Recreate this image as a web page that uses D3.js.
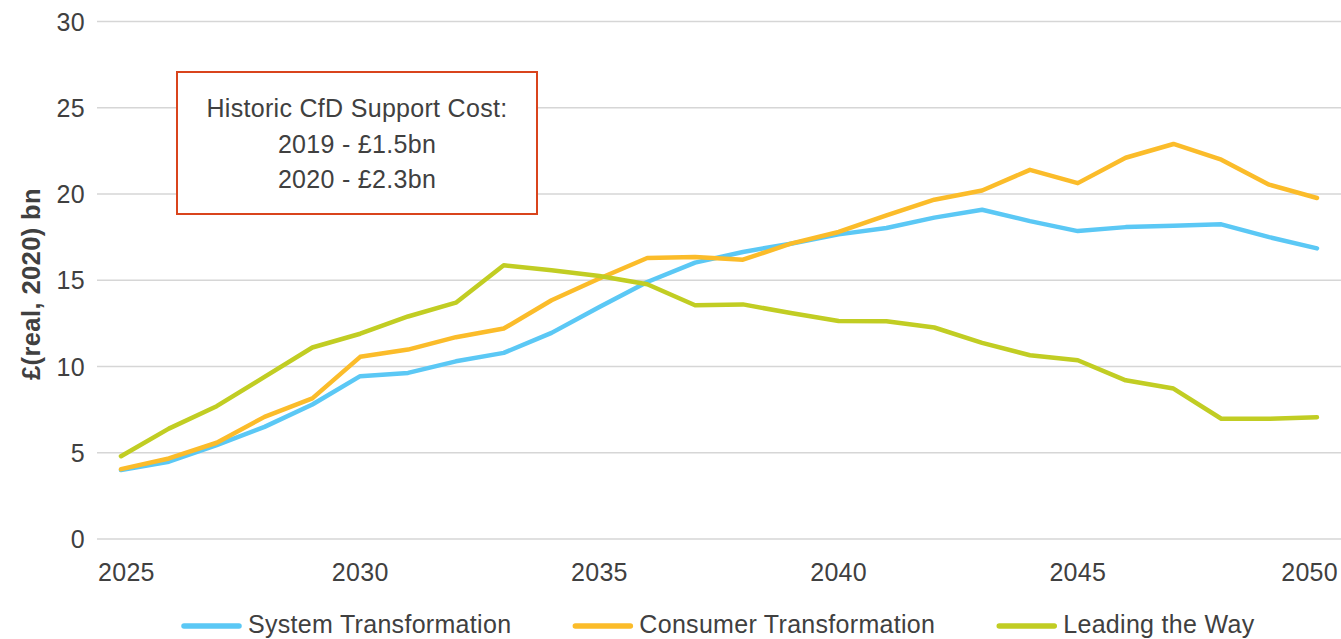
<!DOCTYPE html>
<html>
<head>
<meta charset="utf-8">
<script src="https://cdn.jsdelivr.net/npm/d3@7/dist/d3.min.js"></script>
<style>
  html, body { margin: 0; padding: 0; background: #fff; }
  svg { display: block; font-family: "Liberation Sans", Arial, Helvetica, sans-serif; }
</style>
</head>
<body>
<svg id="chart" width="1341" height="639"></svg>
<script>
// ---- data ----
const years = d3.range(2025, 2051);
const xTickLabels = [2025, 2030, 2035, 2040, 2045, 2050];
const yTickLabels = [0, 5, 10, 15, 20, 25, 30];
const seriesNames = ["System Transformation", "Consumer Transformation", "Leading the Way"];
const systemTransformation = [4.0, 4.48, 5.44, 6.5, 7.8, 9.44, 9.63, 10.3, 10.79, 11.95, 13.45, 14.9, 16.02, 16.64, 17.12, 17.66, 18.03, 18.63, 19.09, 18.43, 17.85, 18.08, 18.16, 18.24, 17.5, 16.85];
const consumerTransformation = [4.05, 4.67, 5.58, 7.08, 8.15, 10.56, 10.98, 11.7, 12.2, 13.84, 15.1, 16.29, 16.35, 16.19, 17.12, 17.8, 18.76, 19.67, 20.2, 21.4, 20.63, 22.1, 22.9, 21.99, 20.54, 19.77];
const leadingTheWay = [4.8, 6.4, 7.7, 9.4, 11.1, 11.9, 12.9, 13.7, 15.87, 15.58, 15.25, 14.77, 13.55, 13.6, 13.1, 12.64, 12.62, 12.26, 11.37, 10.65, 10.36, 9.2, 8.72, 6.97, 6.97, 7.06];
const annotationLines = ["Historic CfD Support Cost:", "2019 - £1.5bn", "2020 - £2.3bn"];
const yTitle = "£(real, 2020) bn";

// ---- layout / style ----
const W = 1341, H = 639;
const colors = ["#5bc8f5", "#fbbc2a", "#c1cd23"];
const textColor = "#404040";
const gridColor = "#d6d6d6";
const fontSize = 25;
const letterSp = "0.3px";

const svg = d3.select("#chart");
const x = d3.scaleLinear().domain([2025, 2050]).range([121, 1317]);
const y = d3.scaleLinear().domain([0, 30]).range([539, 21.5]);

// gridlines
svg.append("g").selectAll("line").data(yTickLabels).join("line")
  .attr("x1", 97).attr("x2", W)
  .attr("y1", d => y(d)).attr("y2", d => y(d))
  .attr("stroke", gridColor).attr("stroke-width", 1.5);

// y tick labels
svg.append("g").selectAll("text").data(yTickLabels).join("text")
  .attr("x", 85).attr("y", d => y(d)).attr("dy", "0.36em")
  .attr("text-anchor", "end")
  .attr("font-size", fontSize).attr("letter-spacing", letterSp).attr("fill", textColor)
  .text(d => d);

// x tick labels (kept inside the canvas)
const xl = svg.append("g").selectAll("text").data(xTickLabels).join("text")
  .attr("y", 581)
  .attr("text-anchor", "middle")
  .attr("font-size", fontSize).attr("letter-spacing", letterSp).attr("fill", textColor)
  .text(d => d);
xl.each(function(d) {
  const w = this.getComputedTextLength();
  const cx = Math.max(w / 2 + 98, Math.min(W - 3 - w / 2, x(d)));
  d3.select(this).attr("x", cx);
});

// y title
svg.append("text")
  .attr("transform", `translate(40,${284}) rotate(-90)`)
  .attr("text-anchor", "middle")
  .attr("font-size", 25.5).attr("letter-spacing", "0.4px").attr("font-weight", "bold").attr("fill", textColor)
  .text(yTitle);

// annotation box
const box = { x: 177, y: 72, w: 360, h: 142 };
svg.append("rect")
  .attr("x", box.x).attr("y", box.y).attr("width", box.w).attr("height", box.h)
  .attr("fill", "#fff").attr("stroke", "#d9441c").attr("stroke-width", 2);
svg.append("g").selectAll("text").data(annotationLines).join("text")
  .attr("x", box.x + box.w / 2).attr("y", (d, i) => 117 + i * 35.5)
  .attr("text-anchor", "middle")
  .attr("font-size", fontSize).attr("letter-spacing", letterSp).attr("fill", textColor)
  .text(d => d);

// lines
const allSeries = [systemTransformation, consumerTransformation, leadingTheWay];
const line = d3.line().x((d, i) => x(years[i])).y(d => y(d));
svg.append("g").selectAll("path").data(allSeries).join("path")
  .attr("d", line)
  .attr("fill", "none")
  .attr("stroke", (d, i) => colors[i])
  .attr("stroke-width", 4.5)
  .attr("stroke-linejoin", "round")
  .attr("stroke-linecap", "round");

// legend
const legend = svg.append("g");
let lx = 184;
seriesNames.forEach((name, i) => {
  legend.append("line")
    .attr("x1", lx).attr("x2", lx + 55)
    .attr("y1", 626).attr("y2", 626)
    .attr("stroke", colors[i]).attr("stroke-width", 5.5)
    .attr("stroke-linecap", "round");
  const t = legend.append("text")
    .attr("x", lx + 64).attr("y", 633)
    .attr("font-size", fontSize).attr("letter-spacing", letterSp).attr("fill", textColor)
    .text(name);
  lx = lx + 64 + t.node().getComputedTextLength() + 64;
});
</script>
</body>
</html>
